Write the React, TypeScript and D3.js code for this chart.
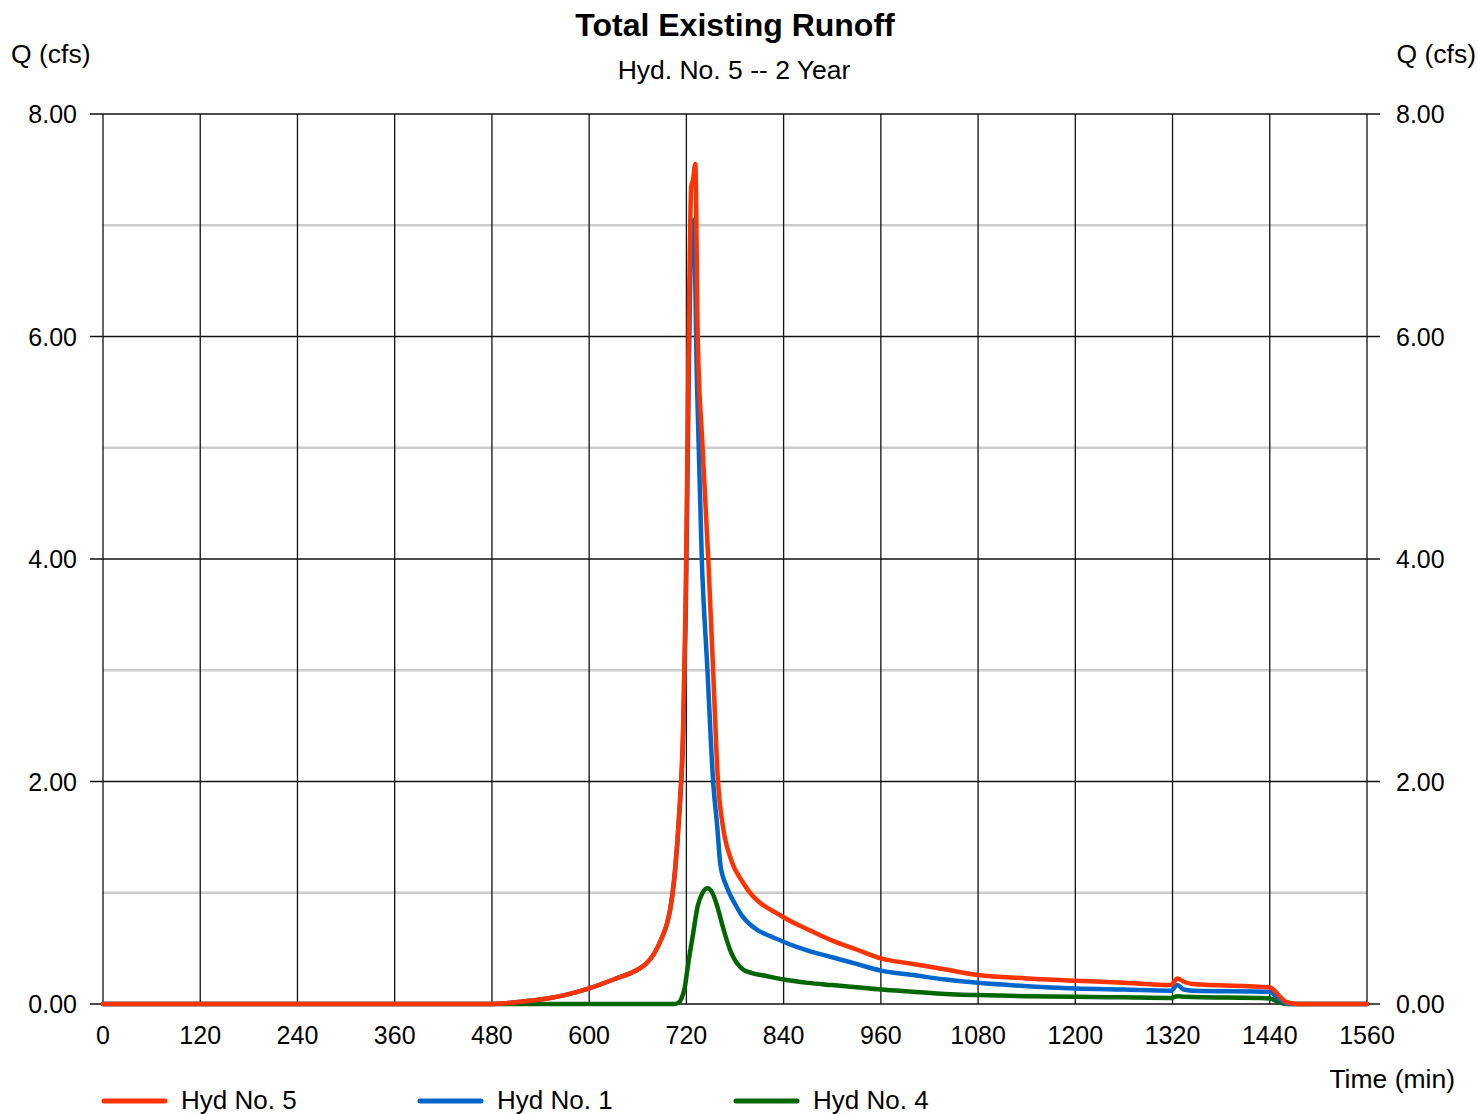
import React from "react";
import * as d3 from "d3";

// Hydrograph ordinates: [time (min), discharge (cfs)]
const hyd5: [number, number][] = [
  [0, 0], [480, 0], [500, 0.01], [540, 0.04], [570, 0.08], [600, 0.14], [630, 0.22],
  [660, 0.31], [670, 0.36], [680, 0.45], [690, 0.6], [696, 0.72], [700, 0.85],
  [706, 1.2], [711, 1.7], [716, 2.5], [719, 3.6], [721, 4.8], [723, 6.1], [726, 7.35],
  [728, 7.4], [731, 7.55], [734, 6.0], [740, 5.0], [747, 4.0], [753, 3.0], [759, 2.0],
  [765, 1.6], [775, 1.3], [790, 1.09], [840, 0.78], [870, 0.67],
  [900, 0.57], [930, 0.49], [960, 0.41], [1000, 0.36], [1040, 0.31], [1080, 0.26],
  [1140, 0.23], [1200, 0.21], [1260, 0.19], [1318, 0.17], [1326, 0.23], [1334, 0.2],
  [1345, 0.18], [1440, 0.15], [1446, 0.12], [1452, 0.07], [1460, 0.02], [1475, 0],
  [1560, 0],
];

const hyd1: [number, number][] = [
  [0, 0], [480, 0], [500, 0.01], [540, 0.04], [570, 0.08], [600, 0.14], [630, 0.22],
  [660, 0.31], [670, 0.36], [680, 0.45], [690, 0.6], [696, 0.72], [700, 0.85],
  [706, 1.2], [711, 1.68], [716, 2.4], [719, 3.4], [721, 4.5], [723, 5.7], [725, 6.6],
  [727, 7.0], [729, 7.05], [733, 5.6], [739, 4.0], [746, 3.0], [753, 2.0], [758, 1.6],
  [762, 1.25], [770, 1.05], [780, 0.9], [790, 0.78], [840, 0.56],
  [870, 0.48], [900, 0.42], [930, 0.36], [960, 0.3], [1000, 0.26], [1040, 0.22],
  [1080, 0.19], [1140, 0.16], [1200, 0.14], [1260, 0.13], [1318, 0.12], [1326, 0.17],
  [1334, 0.13], [1345, 0.12], [1440, 0.11], [1446, 0.08], [1454, 0.03], [1464, 0],
  [1560, 0],
];

const hyd4: [number, number][] = [
  [0, 0], [705, 0], [710, 0.01], [714, 0.05], [718, 0.15], [722, 0.35], [728, 0.62],
  [734, 0.88], [740, 1.0], [746, 1.04], [752, 1.0], [758, 0.88], [764, 0.72],
  [770, 0.57], [776, 0.45], [782, 0.37], [790, 0.31], [800, 0.28], [820, 0.25],
  [840, 0.22], [870, 0.19], [900, 0.17], [930, 0.15], [960, 0.13], [1000, 0.11],
  [1040, 0.09], [1080, 0.08], [1140, 0.07], [1200, 0.065], [1260, 0.06], [1318, 0.055],
  [1326, 0.07], [1334, 0.065], [1440, 0.05], [1450, 0.02], [1460, 0], [1560, 0],
];

const xTicks = [0, 120, 240, 360, 480, 600, 720, 840, 960, 1080, 1200, 1320, 1440, 1560];
const yMajor = [0, 2, 4, 6, 8];
const yMinor = [1, 3, 5, 7];

const seriesNames = ["Hyd No. 5", "Hyd No. 1", "Hyd No. 4"];
const seriesColors = ["#ff3300", "#0066cc", "#006600"];

const W = 1478;
const H = 1114;
const FONT = "'Liberation Sans', Arial, sans-serif";

export default function App() {
  const x = d3.scaleLinear().domain([0, 1560]).range([103, 1367]);
  const y = d3.scaleLinear().domain([0, 8]).range([1004, 114]);
  const line = d3
    .line<[number, number]>()
    .x((d) => x(d[0]))
    .y((d) => y(d[1]))
    .curve(d3.curveMonotoneX);

  const series = [hyd5, hyd1, hyd4];
  const drawOrder = [2, 1, 0];

  return (
    <svg
      width={W}
      height={H}
      style={{ position: "absolute", left: 0, top: 0, background: "#fff" }}
      fontFamily={FONT}
    >
      <rect x={0} y={0} width={W} height={H} fill="#fff" />
      <text x={735} y={36} textAnchor="middle" fontSize={32} fontWeight="bold">
        Total Existing Runoff
      </text>
      <text x={734} y={79} textAnchor="middle" fontSize={26.5}>
        Hyd. No. 5 -- 2 Year
      </text>
      <text x={11} y={63} fontSize={26.5}>Q (cfs)</text>
      <text x={1476} y={63} fontSize={26.5} textAnchor="end">Q (cfs)</text>

      {/* minor horizontal gridlines */}
      {yMinor.map((v) => (
        <line key={"mi" + v} x1={x(0)} x2={x(1560)} y1={y(v)} y2={y(v)} stroke="#cccccc" strokeWidth={2.5} />
      ))}
      {/* vertical gridlines */}
      {xTicks.map((t) => (
        <line key={"vx" + t} x1={x(t)} x2={x(t)} y1={y(8)} y2={y(0)} stroke="#111" strokeWidth={1.3} />
      ))}
      {/* major horizontal gridlines with tick stubs on both sides */}
      {yMajor.map((v) => (
        <line key={"ma" + v} x1={x(0) - 13} x2={x(1560) + 13} y1={y(v)} y2={y(v)} stroke="#111" strokeWidth={1.3} />
      ))}

      {yMajor.map((v) => (
        <text key={"yl" + v} x={77} y={y(v) + 9} fontSize={25} textAnchor="end">
          {v.toFixed(2)}
        </text>
      ))}
      {yMajor.map((v) => (
        <text key={"yr" + v} x={1396} y={y(v) + 9} fontSize={25}>
          {v.toFixed(2)}
        </text>
      ))}
      {xTicks.map((t) => (
        <text key={"xl" + t} x={x(t)} y={1044} fontSize={25} textAnchor="middle">
          {t}
        </text>
      ))}
      <text x={1455} y={1088} fontSize={26.5} textAnchor="end">Time (min)</text>

      {drawOrder.map((i) => (
        <path
          key={"s" + i}
          d={line(series[i]) || ""}
          fill="none"
          stroke={seriesColors[i]}
          strokeWidth={4.5}
          strokeLinejoin="round"
          strokeLinecap="round"
        />
      ))}

      {seriesNames.map((name, i) => (
        <g key={"lg" + i} transform={`translate(${102 + i * 316},1101)`}>
          <line x1={2} x2={63} y1={0} y2={0} stroke={seriesColors[i]} strokeWidth={5} strokeLinecap="round" />
          <text x={79} y={7.5} fontSize={26}>{name}</text>
        </g>
      ))}
    </svg>
  );
}
